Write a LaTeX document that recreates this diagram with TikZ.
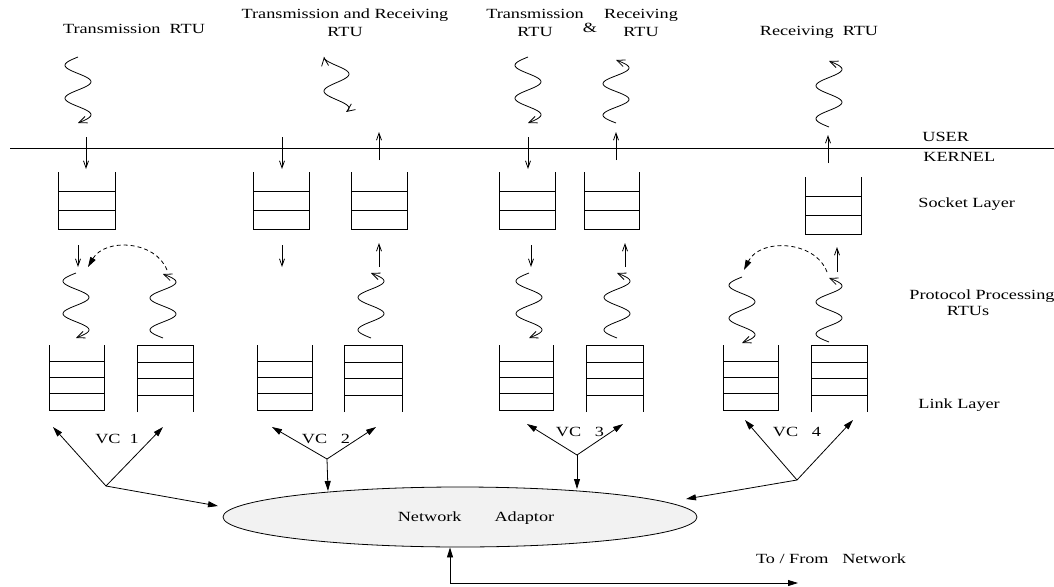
\documentclass[tikz,border=0pt]{standalone}
\usepackage{fontspec}
\setmainfont{Liberation Serif}[FakeStretch=1.3]
\usetikzlibrary{arrows.meta}
\usetikzlibrary{shapes.geometric}
\tikzset{>={Straight Barb[length=7pt,width=5pt]}}
\tikzset{
  wtip/.tip={Straight Barb[length=8pt,width=7pt]},
  ftip/.tip={Triangle[length=10pt,width=6pt]},
  lbl/.style={font=\fontsize{14}{18}\selectfont,inner sep=0pt},
  wave/.style={-wtip,domain=0:720,samples=60,variable=\t,smooth},
  fat/.style={-ftip},
}

\begin{document}
\begin{tikzpicture}[x=1pt,y=-1pt,line width=0.8pt]
    \useasboundingbox (0,0) rectangle (1054,586);
    \draw (10,148)--(1054,148);
    % socket queues
    \foreach \A/\B/\T in {58/115/172,253/309/172,351/407/172,499/555/172,584/639/172,805/861/177}
    {\draw (\A,\T)--(\A,\T+57)--(\B,\T+57)--(\B,\T);
    \draw (\A,\T+19)--(\B,\T+19);
    \draw (\A,\T+38)--(\B,\T+38);
    }
    % link queues
    \foreach \A/\B in {49/104,257/312,499/553,723/778}
    {\draw (\A,345)--(\A,410)--(\B,410)--(\B,345);
    \foreach \Y in {361,377,393} \draw (\A,\Y)--(\B,\Y);
    }
    \foreach \A/\B in {137/193,344/402,586/643,811/867}
    {\draw (\A,412)--(\A,345)--(\B,345)--(\B,412);
    \foreach \Y in {362,378,395} \draw (\A,\Y)--(\B,\Y);
    }
    % RTUs
    \foreach \C/\S/\E in {78/57/123,528/57/123,616/123/60,829/127/61,
      76/273/338,163/338/274,371/338/273,529/273/338,617/338/273,742/277/343,829/342/278}
    {\draw[wave] plot ({\C-13*sin(\t)},{\S+(\E-\S)*(\t/720)});}
    \draw[wave,wtip-wtip,domain=0:580] plot ({336.5-12.5*cos(\t)},{57+55*(\t/580)});
    \foreach \X/\S/\E in {86/137/169,282/137/169,379/160/132,528/137/169,616/160/132,828/163/135,
      78/245/267,282/245/267,379/267/243,531/245/267,625/267/243,837/272/247}
    {\draw[->] (\X,\S)--(\X,\E);}
    \draw[dashed,dash pattern=on 4pt off 3pt,fat] (167,270) .. controls (155,240) and (105,238) .. (88,267);
    \draw[dashed,dash pattern=on 4pt off 3pt,fat] (827,272) .. controls (815,240) and (760,238) .. (744,270);
    % adaptor and VCs
    \node[ellipse,draw,fill=black!5,minimum width=474pt,minimum height=60pt,inner sep=0pt] (adaptor) at (460,517) {};
    \node[lbl] (adaptorname) at (476,518) {Network\hspace{33pt}Adaptor};
    \coordinate (vc1) at (106,486);
    \coordinate (vc1-l) at (53,427);
    \coordinate (vc1-r) at (163,427);
    \coordinate (vc1-a) at (218,506);
    \coordinate (vc2) at (327,459);
    \coordinate (vc2-l) at (272,427);
    \coordinate (vc2-r) at (376,427);
    \coordinate (vc2-a) at (328,491);
    \coordinate (vc3) at (577,455);
    \coordinate (vc3-l) at (527,424);
    \coordinate (vc3-r) at (623,424);
    \coordinate (vc3-a) at (577,489);
    \coordinate (vc4) at (797,480);
    \coordinate (vc4-l) at (745,420);
    \coordinate (vc4-r) at (853,420);
    \coordinate (vc4-a) at (686,499);
    \foreach \N in {1,2,3,4}
    {\draw[fat] (vc\N)--(vc\N-l);
    \draw[fat] (vc\N)--(vc\N-r);
    \draw[fat] (vc\N)--(vc\N-a);
    }
    \coordinate (net) at (798,583);
    \draw[ftip-ftip] ([xshift=-10pt]adaptor.south) |- (net);
    % labels
    \node[lbl] (vc1name) at (117,439) {VC\ \ 1};
    \node[lbl] (vc2name) at (326,439) {VC\ \ \ 2};
    \node[lbl] (vc3name) at (580,432) {VC\ \ \ 3};
    \node[lbl] (vc4name) at (797,432) {VC\ \ \ 4};
    \node[lbl] (netname) at (831,559) {To / From\ \ \ Network};
    \node[lbl] (txname) at (134,28.5) {Transmission\ \ RTU};
    \node[lbl,align=center] (txrxname) at (345,23) {Transmission and Receiving\\RTU};
    \node[lbl,align=center] (txname2) at (535,23) {Transmission\\RTU};
    \node[lbl] (ampname) at (590,28) {\&};
    \node[lbl,align=center] (rxname2) at (641,23) {Receiving\\RTU};
    \node[lbl] (rxname) at (819,32) {Receiving\ \ RTU};
    \node[lbl,anchor=west] (user) at (922,137) {USER};
    \node[lbl,anchor=west] (kernel) at (923,157) {KERNEL};
    \node[lbl,anchor=west] (socket) at (918,204) {Socket Layer};
    \node[lbl,anchor=west] (proto) at (909,296) {Protocol Processing};
    \node[lbl] (protortu) at (968,311) {RTUs};
    \node[lbl,anchor=west] (link) at (918,405) {Link Layer};
\end{tikzpicture}
\end{document}
